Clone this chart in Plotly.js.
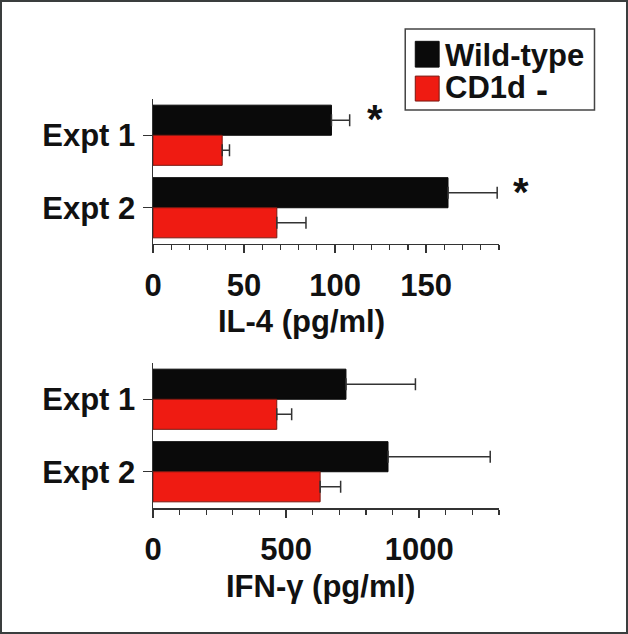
<!DOCTYPE html>
<html>
<head>
<meta charset="utf-8">
<script src="https://cdn.plot.ly/plotly-3.0.1.min.js"></script>
<style>
  html, body { margin: 0; padding: 0; background: #fff; }
  #chart { width: 628px; height: 634px; box-sizing: border-box; border: 2px solid #3a3e3e; }
</style>
</head>
<body>
<div id="chart"></div>
<script>
// data
var expts = ['Expt 1', 'Expt 2'];
var il4_wt = [98, 162];
var il4_wt_err = [10, 27];
var il4_ko = [38, 68];
var il4_ko_err = [4, 16];
var ifn_wt = [725, 883];
var ifn_wt_err = [261, 384];
var ifn_ko = [465, 628];
var ifn_ko_err = [56, 77];
var star_x = [0.642, 1.065];   // * marks, paper x (second one sits past the axis end)

var FONT = 'Liberation Sans, Arial, Helvetica, sans-serif';
var BLACK = '#0a0a0a', RED = '#ef1b12', AX = '#333';

function bar(x, err, color, lcolor, xa, ya) {
  return {
    type: 'bar', orientation: 'h', y: expts, x: x, xaxis: xa, yaxis: ya,
    marker: {color: color, line: {color: lcolor, width: 1}},
    error_x: {type: 'data', symmetric: false, array: err, arrayminus: [0, 0],
              color: AX, thickness: 1.5, width: 6},
    showlegend: false, hoverinfo: 'x'
  };
}

var data = [
  bar(il4_wt, il4_wt_err, BLACK, BLACK, 'x', 'y'),
  bar(il4_ko, il4_ko_err, RED, '#7a1810', 'x', 'y'),
  bar(ifn_wt, ifn_wt_err, BLACK, BLACK, 'x2', 'y2'),
  bar(ifn_ko, ifn_ko_err, RED, '#7a1810', 'x2', 'y2')
];

var tickfont = {family: FONT, size: 31, weight: 700, color: '#111'};
var bigfont = {family: FONT, size: 31, weight: 700, color: '#111'};

function xax(range, dtick, mdtick, anchor) {
  return {
    range: range, anchor: anchor, domain: [0, 1],
    showline: true, linecolor: AX, linewidth: 1.5,
    ticks: 'outside', ticklen: 8, tickwidth: 1.5, tickcolor: AX,
    tick0: 0, dtick: dtick, tickfont: tickfont, showgrid: false, zeroline: false,
    ticklabelstandoff: 5,
    minor: {ticks: 'outside', dtick: mdtick, tick0: 0, ticklen: 5, tickwidth: 1.2, tickcolor: AX, showgrid: false}
  };
}
function yax(domain, anchor) {
  return {
    domain: domain, anchor: anchor, type: 'category', range: [1.5, -0.5],
    showline: true, linecolor: AX, linewidth: 1.5,
    ticks: 'outside', ticklen: 9, tickwidth: 1.5, tickcolor: AX,
    tickfont: tickfont, showgrid: false, zeroline: false, ticklabelstandoff: 1
  };
}

var ann = [
  {xref: 'paper', yref: 'paper', x: 0.428, y: 0.455, yanchor: 'middle', text: 'IL-4 (pg/ml)',
   showarrow: false, font: bigfont},
  {xref: 'paper', yref: 'paper', x: 0.483, y: -0.193, yanchor: 'middle', text: 'IFN-\u03b3 (pg/ml)',
   showarrow: false, font: bigfont},
  {xref: 'paper', yref: 'paper', x: 0.839, y: 1.107, xanchor: 'left', yanchor: 'middle', text: 'Wild-type',
   showarrow: false, font: bigfont},
  {xref: 'paper', yref: 'paper', x: 0.839, y: 1.027, xanchor: 'left', yanchor: 'middle', text: 'CD1d',
   showarrow: false, font: bigfont},
  // the raised minus after CD1d
  {xref: 'paper', yref: 'paper', x: 1.1256, y: 1.024, xanchor: 'center', yanchor: 'middle', text: '-',
   showarrow: false, font: {family: FONT, size: 36, weight: 700, color: '#111'}}
];
for (var i = 0; i < expts.length; i++) {
  ann.push({xref: 'paper', yref: 'y', x: star_x[i], y: expts[i], xanchor: 'center', yshift: 16,
            text: '*', showarrow: false, font: {family: FONT, size: 40, weight: 700, color: '#111'}});
}

var shapes = [
  {type: 'rect', xref: 'paper', yref: 'paper', x0: 0.729, x1: 1.276, y0: 0.973, y1: 1.171,
   line: {color: '#444', width: 1.5}, fillcolor: 'rgba(0,0,0,0)'},
  {type: 'rect', xref: 'paper', yref: 'paper', x0: 0.758, x1: 0.827, y0: 1.078, y1: 1.141,
   line: {color: BLACK, width: 1}, fillcolor: BLACK},
  {type: 'rect', xref: 'paper', yref: 'paper', x0: 0.758, x1: 0.827, y0: 0.995, y1: 1.056,
   line: {color: '#7a1810', width: 1}, fillcolor: RED}
];

var layout = {
  width: 624, height: 630,
  margin: {l: 151, r: 127, t: 97, b: 124},
  paper_bgcolor: '#fff', plot_bgcolor: '#fff',
  barmode: 'group', bargap: 0.17, bargroupgap: 0,
  xaxis: xax([0, 190], 50, 10, 'y'),
  yaxis: yax([0.6455, 1], 'x'),
  xaxis2: xax([0, 1300], 500, 100, 'y2'),
  yaxis2: yax([0, 0.3545], 'x2'),
  annotations: ann,
  shapes: shapes,
  showlegend: false
};

Plotly.newPlot('chart', data, layout, {displayModeBar: false, staticPlot: true});
</script>
</body>
</html>
